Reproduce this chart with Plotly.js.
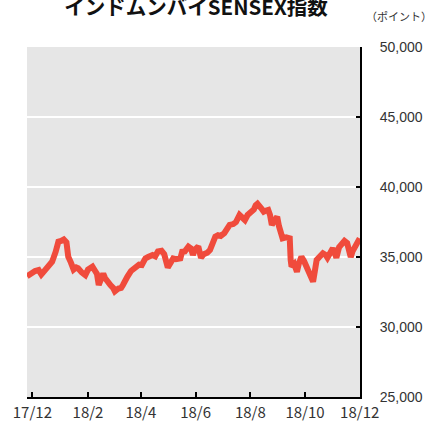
<!DOCTYPE html>
<html>
<head>
<meta charset="utf-8">
<script src="https://cdn.plot.ly/plotly-3.0.1.min.js"></script>
<style>html,body{margin:0;padding:0;background:#fff;}#chart{width:431px;height:421px;}</style>
</head>
<body>
<div id="chart"></div>
<script>
const dates = [
"2017-11-25","2017-11-29","2017-12-01","2017-12-04","2017-12-08","2017-12-11","2017-12-13","2017-12-18","2017-12-23","2017-12-27",
"2017-12-30","2018-01-02","2018-01-05","2018-01-08","2018-01-10","2018-01-13","2018-01-16","2018-01-19","2018-01-21","2018-01-25",
"2018-01-29","2018-02-01","2018-02-06","2018-02-09","2018-02-11","2018-02-13","2018-02-16","2018-02-18","2018-02-20","2018-02-22",
"2018-02-26","2018-03-01","2018-03-03","2018-03-07","2018-03-10","2018-03-12","2018-03-14","2018-03-17","2018-03-21","2018-03-26",
"2018-03-30","2018-04-02","2018-04-06","2018-04-09","2018-04-14","2018-04-17","2018-04-20","2018-04-24","2018-04-27","2018-05-01",
"2018-05-05","2018-05-07","2018-05-10","2018-05-15","2018-05-17","2018-05-20","2018-05-24","2018-05-27","2018-05-29","2018-05-31",
"2018-06-04","2018-06-07","2018-06-10","2018-06-14","2018-06-17","2018-06-20","2018-06-23","2018-06-26","2018-06-29","2018-07-03",
"2018-07-06","2018-07-09","2018-07-13","2018-07-16","2018-07-20","2018-07-24","2018-07-26","2018-07-29","2018-08-02","2018-08-05",
"2018-08-07","2018-08-09","2018-08-13","2018-08-16","2018-08-18","2018-08-21","2018-08-23","2018-08-25","2018-08-27","2018-08-31",
"2018-09-02","2018-09-04","2018-09-06","2018-09-10","2018-09-14","2018-09-15","2018-09-16","2018-09-19","2018-09-22","2018-09-24",
"2018-09-27","2018-09-30","2018-10-03","2018-10-05","2018-10-07","2018-10-10","2018-10-12","2018-10-14","2018-10-17","2018-10-21",
"2018-10-24","2018-10-26","2018-10-30","2018-11-01","2018-11-03","2018-11-05","2018-11-08","2018-11-10","2018-11-12","2018-11-14",
"2018-11-17","2018-11-19","2018-11-21","2018-11-23","2018-11-25","2018-11-28","2018-11-30","2018-12-01"
];
const values = [
33620,33800,33950,34000,34070,33750,33900,34310,34660,35380,
36090,36150,36250,36050,35020,34600,34100,34250,34200,33900,
33700,34100,34310,34000,33800,33000,33500,33810,33500,33300,
33000,32800,32550,32750,32800,33000,33300,33600,34000,34300,
34450,34430,34900,35000,35140,35050,35400,35450,35200,34250,
34700,34900,34850,34900,35380,35400,35740,35600,35140,35500,
35750,34950,35200,35300,35500,36000,36450,36550,36500,36700,
37000,37290,37350,37500,38000,37800,37640,38000,38240,38400,
38700,38810,38500,38240,38300,38360,38000,37290,37500,37880,
37200,36700,36330,36400,36330,34800,34310,34500,33950,34500,
35020,34700,34300,34000,33600,33240,34000,34790,35000,35260,
35150,34950,35400,35620,35300,34950,35700,35900,36090,36150,
36000,35500,35000,35400,35700,36000,36250,36330
];
const tickDates = ["2017-12-01","2018-02-01","2018-04-01","2018-06-01","2018-08-01","2018-10-01","2018-12-01"];
const tickLabels = ["17/12","18/2","18/4","18/6","18/8","18/10","18/12"];
const yTickVals = [25000,30000,35000,40000,45000,50000];
const yTickLabels = ["25,000","30,000","35,000","40,000","45,000","50,000"];
const titleText = "インドムンバイSENSEX指数";
const unitText = "（ポイント）";

const trace = {
  x: dates, y: values, type: "scatter", mode: "lines",
  line: {color: "#f04b3c", width: 6, shape: "linear"},
  hoverinfo: "skip"
};

const layout = {
  width: 431, height: 421,
  margin: {l: 27, r: 71, t: 47, b: 24, pad: 0},
  paper_bgcolor: "#ffffff",
  plot_bgcolor: "#e6e6e6",
  showlegend: false,
  title: {
    text: titleText,
    font: {family: "Noto Sans CJK JP", size: 20.5, color: "#111111", weight: "bold"},
    xref: "container", yref: "container",
    x: 196/431, xanchor: "center",
    y: 1 - 7.5/421, yanchor: "middle"
  },
  xaxis: {
    type: "date",
    range: ["2017-11-25", "2018-12-01 08:00"],
    tickmode: "array", tickvals: tickDates, ticktext: tickLabels,
    ticks: "inside", ticklen: 5, tickwidth: 2, tickcolor: "#000",
    showline: true, linecolor: "#000", linewidth: 2,
    showgrid: false, zeroline: false,
    tickfont: {family: "Noto Sans CJK JP", size: 15, color: "#333"},
    ticklabelstandoff: 1,
    fixedrange: true
  },
  yaxis: {
    side: "right",
    range: [25000, 50000],
    tickmode: "array", tickvals: yTickVals, ticktext: yTickLabels,
    ticks: "inside", ticklen: 4, tickwidth: 2, tickcolor: "#000",
    showline: true, linecolor: "#000", linewidth: 2,
    showgrid: true, gridcolor: "#ffffff", gridwidth: 1.5,
    zeroline: false,
    tickfont: {family: "Liberation Sans, Arial, sans-serif", size: 14, color: "#333"},
    ticklabelstandoff: 15,
    fixedrange: true
  },
  annotations: [{
    text: unitText, showarrow: false,
    xref: "paper", yref: "paper",
    x: (399-27)/333, y: (397-16)/350,
    xanchor: "center", yanchor: "middle",
    font: {family: "Noto Sans CJK JP", size: 11, color: "#333"}
  }]
};

Plotly.newPlot("chart", [trace], layout, {displayModeBar: false, staticPlot: true});
</script>
</body>
</html>
